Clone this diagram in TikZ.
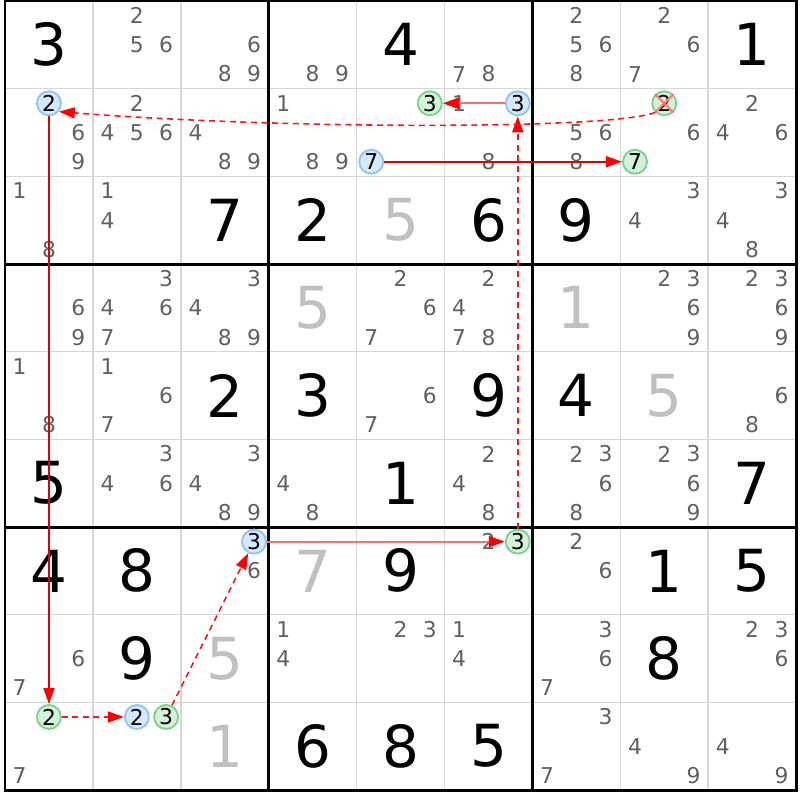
\documentclass[tikz,border=0pt]{standalone}
\usepackage{fontspec}
\setmainfont{DejaVu Sans}
\usetikzlibrary{arrows.meta}
\definecolor{gridgray}{RGB}{214,214,214}
\definecolor{candgray}{RGB}{96,96,96}
\definecolor{solvedgray}{RGB}{192,192,192}
\definecolor{bluefill}{RGB}{214,232,251}
\definecolor{blueline}{RGB}{146,196,244}
\definecolor{greenfill}{RGB}{212,242,216}
\definecolor{greenline}{RGB}{124,212,140}
\definecolor{darkred}{RGB}{225,0,0}
\definecolor{lightred}{RGB}{255,110,110}
\definecolor{linkred}{RGB}{255,20,20}
\definecolor{crossred}{RGB}{255,120,120}
\begin{document}
\begin{tikzpicture}[x=0.879cm,y=-0.8767cm,>={Triangle[length=1.6mm,width=1.1mm,color=red]},
	given/.style={font=\fontsize{16.5}{18}\selectfont,inner sep=0pt},
	solved/.style={given,text=solvedgray},
	cand/.style={font=\fontsize{6.2}{7}\selectfont,text=candgray,inner sep=0pt},
	candmark/.style={circle,draw,line width=0.55pt,minimum size=2.4mm,inner sep=0pt,font=\fontsize{6.2}{7}\selectfont},
	bluemark/.style={candmark,draw=blueline,fill=bluefill},
	greenmark/.style={candmark,draw=greenline,fill=greenfill},
	darklink/.style={draw=darkred,line width=0.45pt,->},
	lightlink/.style={draw=lightred,line width=0.6pt,->},
	dashlink/.style={draw=linkred,line width=0.45pt,dash pattern=on 0.6mm off 0.45mm,->},
	crossline/.style={draw=crossred,line width=0.6pt}]
	\useasboundingbox (-0.0569,-0.0114) rectangle (9.0444,9.1137);
	% grid
	\foreach \i in {1,2,4,5,7,8} {\draw[gridgray,line width=0.45pt] (\i,0)--(\i,9); \draw[gridgray,line width=0.45pt] (0,\i)--(9,\i);}
	\foreach \i in {3,6} {\draw[line width=0.85pt] (\i,0)--(\i,9); \draw[line width=0.85pt] (0,\i)--(9,\i);}
	\draw[line width=0.85pt] (0,0) rectangle (9,9);
	% givens and solved cells
	\foreach \r/\c/\d in {1/1/3,1/5/4,1/9/1,3/3/7,3/4/2,3/6/6,3/7/9,5/3/2,5/4/3,5/6/9,5/7/4,6/1/5,6/5/1,6/9/7,7/1/4,7/2/8,7/5/9,7/8/1,7/9/5,8/2/9,8/8/8,9/4/6,9/5/8,9/6/5}
		\node[given] (g\r\c) at (\c-0.5,\r-0.5) {\d};
	\foreach \r/\c/\d in {3/5/5,4/4/5,4/7/1,5/8/5,7/4/7,8/3/5,9/3/1}
		\node[solved] (g\r\c) at (\c-0.5,\r-0.5) {\d};
	% candidates
	\foreach \r/\c/\ds in {1/2/{2,5,6},1/3/{6,8,9},1/4/{8,9},1/6/{7,8},1/7/{2,5,6,8},1/8/{2,6,7},
		2/1/{6,9},2/2/{2,4,5,6},2/3/{4,8,9},2/4/{1,8,9},2/6/{1,8},2/7/{5,6,8},2/8/{6},2/9/{2,4,6},
		3/1/{1,8},3/2/{1,4},3/8/{3,4},3/9/{3,4,8},
		4/1/{6,9},4/2/{3,4,6,7},4/3/{3,4,8,9},4/5/{2,6,7},4/6/{2,4,7,8},4/8/{2,3,6,9},4/9/{2,3,6,9},
		5/1/{1,8},5/2/{1,6,7},5/5/{6,7},5/9/{6,8},
		6/2/{3,4,6},6/3/{3,4,8,9},6/4/{4,8},6/6/{2,4,8},6/7/{2,3,6,8},6/8/{2,3,6,9},
		7/3/{6},7/6/{2},7/7/{2,6},
		8/1/{6,7},8/4/{1,4},8/5/{2,3},8/6/{1,4},8/7/{3,6,7},8/9/{2,3,6},
		9/1/{7},9/7/{3,7},9/8/{4,9},9/9/{4,9}}
		\foreach \d in \ds
			\node[cand] (p\r\c\d) at ({\c-1+(mod(\d-1,3)+0.5)/3},{\r-1+(floor((\d-1)/3)+0.5)/3}) {\d};
	% marked candidates
	\foreach \r/\c/\d/\s in {2/1/2/bluemark,2/5/3/greenmark,2/5/7/bluemark,2/6/3/bluemark,2/8/2/greenmark,2/8/7/greenmark,
		7/3/3/bluemark,7/6/3/greenmark,9/1/2/greenmark,9/2/2/bluemark,9/2/3/greenmark}
		\node[\s] (m\r\c\d) at ({\c-1+(mod(\d-1,3)+0.5)/3},{\r-1+(floor((\d-1)/3)+0.5)/3}) {\d};
	\draw[crossline] (m282.north west)--(m282.south east) (m282.north east)--(m282.south west);
	% chain
	\draw[darklink] (m212)--(m912);
	\draw[dashlink] (m912)--(m922);
	\draw[dashlink] (m923)--(m733);
	\draw[lightlink] (m733)--(m763);
	\draw[dashlink] (m763)--(m263);
	\draw[lightlink] (m263)--(m253);
	\draw[darklink] (m257)--(m287);
	\draw[dashlink] (m282.-135) .. controls +(-0.5,0.2) and +(2.5,0.2) .. (m212.-40);
\end{tikzpicture}
\end{document}
